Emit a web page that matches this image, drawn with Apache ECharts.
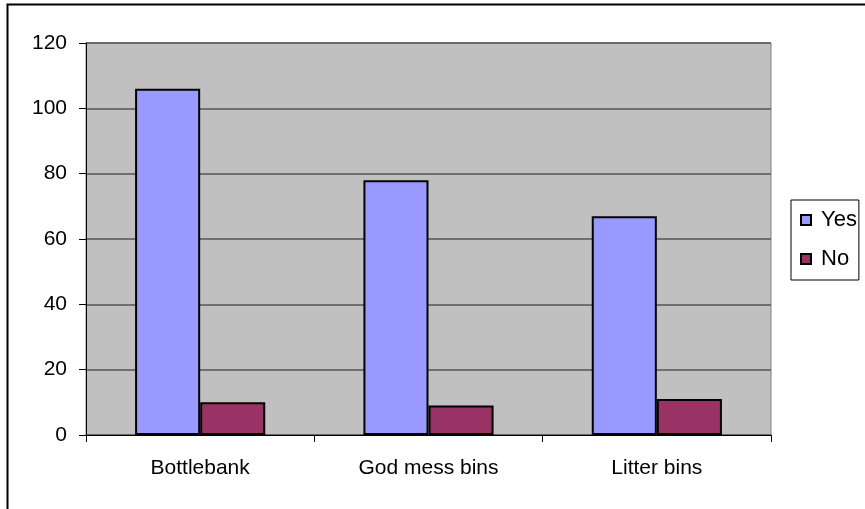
<!DOCTYPE html>
<html>
<head>
<meta charset="utf-8">
<script src="https://cdn.jsdelivr.net/npm/echarts@6/dist/echarts.min.js"></script>
<style>
  html, body { margin: 0; padding: 0; background: #fff; }
  #chart { width: 865px; height: 509px; }
</style>
</head>
<body>
<div id="chart"></div>
<script>
var categories = ["Bottlebank", "God mess bins", "Litter bins"];
var yesValues = [106, 78, 67];
var noValues = [10, 9, 11];
var yTicks = { min: 0, max: 120, interval: 20 };

var mychart = echarts.init(document.getElementById("chart"));
mychart.setOption({
    backgroundColor: "#fff",
    textStyle: { fontFamily: "Liberation Sans, Arial, sans-serif", color: "#000" },
    graphic: [{
        type: "rect",
        shape: { x: 7.5, y: 4.5, width: 900, height: 600 },
        style: { fill: "none", stroke: "#000", lineWidth: 2 },
        silent: true,
        z: -1
    }],
    grid: {
        left: 86, top: 43, right: 94, bottom: 74,
        show: true,
        backgroundColor: "#C0C0C0",
        borderColor: "#808080",
        borderWidth: 1
    },
    legend: {
        orient: "vertical",
        left: 791, top: 200,
        padding: [9, 2, 10, 9],
        itemGap: 17,
        itemWidth: 10, itemHeight: 10,
        icon: "rect",
        borderColor: "#000", borderWidth: 1,
        textStyle: { fontSize: 22, color: "#000", padding: [0, 0, 0, 5] },
        data: ["Yes", "No"]
    },
    xAxis: {
        type: "category",
        data: categories,
        axisLine: { lineStyle: { color: "#000", width: 1 } },
        axisTick: { show: true, length: 7, lineStyle: { color: "#000" } },
        axisLabel: { fontSize: 21, color: "#000", margin: 23 },
        splitLine: { show: false }
    },
    yAxis: {
        type: "value",
        min: yTicks.min, max: yTicks.max, interval: yTicks.interval,
        axisLine: { show: true, lineStyle: { color: "#000", width: 1 } },
        axisTick: { show: true, length: 7, lineStyle: { color: "#000" } },
        axisLabel: { fontSize: 21, color: "#000", margin: 19 },
        splitLine: { lineStyle: { color: "#555", width: 1.5 } }
    },
    series: [{
        name: "Yes",
        type: "bar",
        data: yesValues,
        barGap: "0%",
        barCategoryGap: "43%",
        itemStyle: { color: "#9999FF", borderColor: "#000", borderWidth: 2 }
    }, {
        name: "No",
        type: "bar",
        data: noValues,
        barGap: "0%",
        barCategoryGap: "43%",
        itemStyle: { color: "#993366", borderColor: "#000", borderWidth: 2 }
    }]
});
</script>
</body>
</html>
